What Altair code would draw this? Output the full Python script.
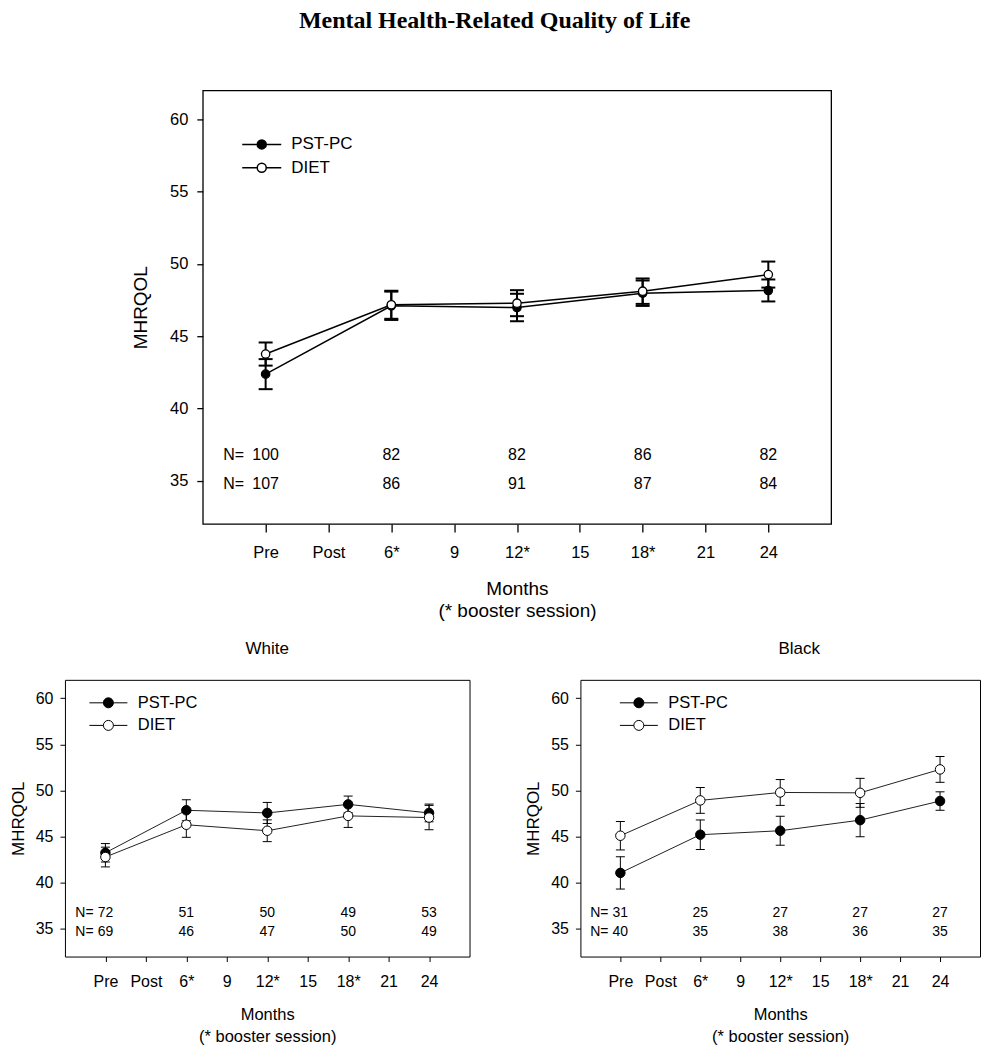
import altair as alt
import pandas as pd

# ---------------- data ----------------
time_labels = ["Pre", "Post", "6*", "9", "12*", "15", "18*", "21", "24"]
obs_index = [0, 2, 4, 6, 8]
groups = ["PST-PC", "DIET"]
y_ticks = [35, 40, 45, 50, 55, 60]

all_pst_mean = [42.37, 47.10, 46.98, 47.97, 48.16]
all_pst_se = [1.04, 0.98, 0.95, 0.88, 0.76]
all_diet_mean = [43.76, 47.17, 47.28, 48.11, 49.26]
all_diet_se = [0.80, 0.97, 0.90, 0.88, 0.90]
all_pst_n = [100, 82, 82, 86, 82]
all_diet_n = [107, 86, 91, 87, 84]

white_pst_mean = [43.25, 47.86, 47.57, 48.50, 47.57]
white_pst_se = [1.00, 1.14, 1.14, 0.90, 0.96]
white_diet_mean = [42.79, 46.29, 45.64, 47.25, 47.07]
white_diet_se = [1.07, 1.36, 1.18, 1.25, 1.32]
white_pst_n = [72, 51, 50, 49, 53]
white_diet_n = [69, 46, 47, 50, 49]

black_pst_mean = [41.07, 45.21, 45.64, 46.79, 48.86]
black_pst_se = [1.75, 1.60, 1.57, 1.80, 1.00]
black_diet_mean = [45.10, 48.93, 49.79, 49.75, 52.29]
black_diet_se = [1.54, 1.40, 1.40, 1.57, 1.40]
black_pst_n = [31, 25, 27, 27, 27]
black_diet_n = [40, 35, 38, 36, 35]

FONT = "Liberation Sans"
label_expr = "[" + ",".join("'%s'" % l for l in time_labels) + "][datum.value]"


def legend_path(half_len):
    return ("M%.3f,0H-0.5M0.5,0H%.3fM0.5,0A0.5,0.5,0,1,1,-0.5,0A0.5,0.5,0,1,1,0.5,0Z"
            % (-half_len, half_len))


def panel(pst_mean, pst_se, diet_mean, diet_se, pst_n, diet_n, st):
    rows = []
    for g, means, ses, ns in [("PST-PC", pst_mean, pst_se, pst_n),
                              ("DIET", diet_mean, diet_se, diet_n)]:
        for t, m, s, n in zip(obs_index, means, ses, ns):
            rows.append({"t": t, "group": g, "mean": m, "lo": m - s, "hi": m + s, "n": n})
    df = pd.DataFrame(rows)

    xaxis = alt.Axis(values=list(range(9)), labelExpr=label_expr,
                     title=["Months", "(* booster session)"], grid=False, domain=False,
                     tickSize=st["xtick"], tickWidth=st["tickw"], tickColor="black",
                     labelFont=FONT, labelFontSize=st["lab"], labelColor="black",
                     labelPadding=st["xlabpad"], labelFlush=False, labelOverlap=False,
                     titleFont=FONT, titleFontSize=st["xtitle"], titleFontWeight="normal",
                     titleColor="black", titlePadding=st["xtitlepad"],
                     titleLineHeight=st["xtitlelh"])
    yaxis = alt.Axis(values=y_ticks, title="MHRQOL", grid=False, domain=False,
                     tickSize=st["ytick"], tickWidth=st["tickw"], tickColor="black",
                     labelFont=FONT, labelFontSize=st["lab"], labelColor="black",
                     labelPadding=st["ylabpad"], labelFlush=False,
                     titleFont=FONT, titleFontSize=st["ytitle"], titleFontWeight="normal",
                     titleColor="black", titlePadding=st["ytitlepad"])
    xs = alt.Scale(domain=[-1, 9], nice=False, zero=False)
    ys = alt.Scale(domain=[32, 62], nice=False, zero=False)
    X = alt.X("t:Q", scale=xs, axis=xaxis)

    def Y(f):
        return alt.Y(f + ":Q", scale=ys, axis=yaxis)

    base = alt.Chart(df)
    line = base.mark_line(color=st["lc"], strokeWidth=st["lw"]).encode(
        x=X, y=Y("mean"), detail="group:N")
    bars = base.mark_rule(color="black", strokeWidth=st["ew"]).encode(
        x=X, y=Y("lo"), y2="hi:Q")
    cap_lo = base.mark_tick(orient="horizontal", size=st["capw"], thickness=st["ew"],
                            color="black", opacity=1).encode(x=X, y=Y("lo"))
    cap_hi = base.mark_tick(orient="horizontal", size=st["capw"], thickness=st["ew"],
                            color="black", opacity=1).encode(x=X, y=Y("hi"))
    pts = base.mark_point(shape="circle", filled=True, size=st["ps"], stroke="black",
                          strokeWidth=st["pw"], opacity=1).encode(
        x=X, y=Y("mean"),
        fill=alt.Fill("group:N", scale=alt.Scale(domain=groups, range=["black", "white"]),
                      legend=alt.Legend(title=None, orient="none",
                                        legendX=st["legx"], legendY=st["legy"],
                                        symbolType=legend_path(st["lhalf"]),
                                        symbolSize=st["lsize"],
                                        symbolStrokeColor="black",
                                        symbolStrokeWidth=st["lw"],
                                        labelFont=FONT, labelFontSize=st["legfs"],
                                        labelColor="black", labelOffset=st["laboff"],
                                        rowPadding=st["rowpad"], padding=0)))
    txt = dict(font=FONT, fontSize=st["nfs"], color="black", baseline="middle", dy=st["ndy"])
    npst = base.transform_filter(alt.datum.group == "PST-PC").mark_text(**txt).encode(
        x=X, y=alt.YDatum(37), text="n:Q")
    ndiet = base.transform_filter(alt.datum.group == "DIET").mark_text(**txt).encode(
        x=X, y=alt.YDatum(35), text="n:Q")
    neq1 = base.transform_filter((alt.datum.group == "PST-PC") & (alt.datum.t == 0)).mark_text(
        text="N=", dx=st["neqdx"], **txt).encode(x=X, y=alt.YDatum(37))
    neq2 = base.transform_filter((alt.datum.group == "DIET") & (alt.datum.t == 0)).mark_text(
        text="N=", dx=st["neqdx"], **txt).encode(x=X, y=alt.YDatum(35))
    return alt.layer(line, bars, cap_lo, cap_hi, pts, npst, ndiet, neq1, neq2)


top_style = dict(xtick=8, ytick=6, tickw=1.3, lab=16.5, xlabpad=13, ylabpad=9,
                 xtitle=19, xtitlepad=18, xtitlelh=22, ytitle=19, ytitlepad=19,
                 lc="black", lw=1.5, ew=2, capw=14, ps=70, pw=1.3,
                 legx=49, legy=44, lhalf=2.17, lsize=324, legfs=17, laboff=19.5,
                 rowpad=5.4, nfs=16, neqdx=-32, ndy=3)
bot_style = dict(xtick=5, ytick=5, tickw=1, lab=16, xlabpad=12,
                 ylabpad=7, xtitle=16.5, xtitlepad=17, xtitlelh=22, ytitle=17, ytitlepad=8,
                 lc="#222222", lw=1, ew=1, capw=9, ps=90, pw=1,
                 legx=33, legy=12.5, lhalf=1.9, lsize=400, legfs=16.5, laboff=19,
                 rowpad=3.6, nfs=14, neqdx=-21, ndy=3)

TOP_H = 434
ROW_GAP = 156

top = panel(all_pst_mean, all_pst_se, all_diet_mean, all_diet_se, all_pst_n, all_diet_n,
            top_style).properties(width=629, height=TOP_H,
                                  view=alt.ViewBackground(stroke="black", strokeWidth=1.3))

white = panel(white_pst_mean, white_pst_se, white_diet_mean, white_diet_se,
              white_pst_n, white_diet_n, bot_style).properties(
    width=405, height=277,
    title=alt.TitleParams("White", font=FONT, fontSize=17, fontWeight="normal",
                          color="black", anchor="middle", offset=22))

black_style = dict(bot_style)
black_style["legx"] = 48
black = panel(black_pst_mean, black_pst_se, black_diet_mean, black_diet_se,
              black_pst_n, black_diet_n, black_style).properties(
    width=400, height=277,
    title=alt.TitleParams("Black", font=FONT, fontSize=17, fontWeight="normal",
                          color="black", anchor="middle", offset=22, dx=19))

spacer = alt.Chart(pd.DataFrame({"v": [0]})).mark_point(opacity=0).encode(
    x=alt.X("v:Q", axis=None), y=alt.Y("v:Q", axis=None)).properties(
    width=138, height=10, view=alt.ViewBackground(strokeOpacity=0))

row1 = alt.hconcat(spacer, top, spacing=0, bounds="flush").resolve_scale(fill="independent")
row2 = alt.hconcat(white, black, spacing=111, bounds="flush").resolve_scale(fill="independent")

# nested flush rows count as zero height, so the spacing carries the top panel height
chart = alt.vconcat(
    row1, row2, spacing=TOP_H + ROW_GAP, bounds="flush",
    title=alt.TitleParams("Mental Health-Related Quality of Life", font="Liberation Serif",
                          fontSize=24, fontWeight="bold", color="black",
                          anchor="middle", offset=57),
).resolve_scale(fill="independent").properties(padding=0).configure_view(
    stroke="black", strokeWidth=1)

chart.save("out.html", embed_options={"renderer": "svg", "actions": False})
